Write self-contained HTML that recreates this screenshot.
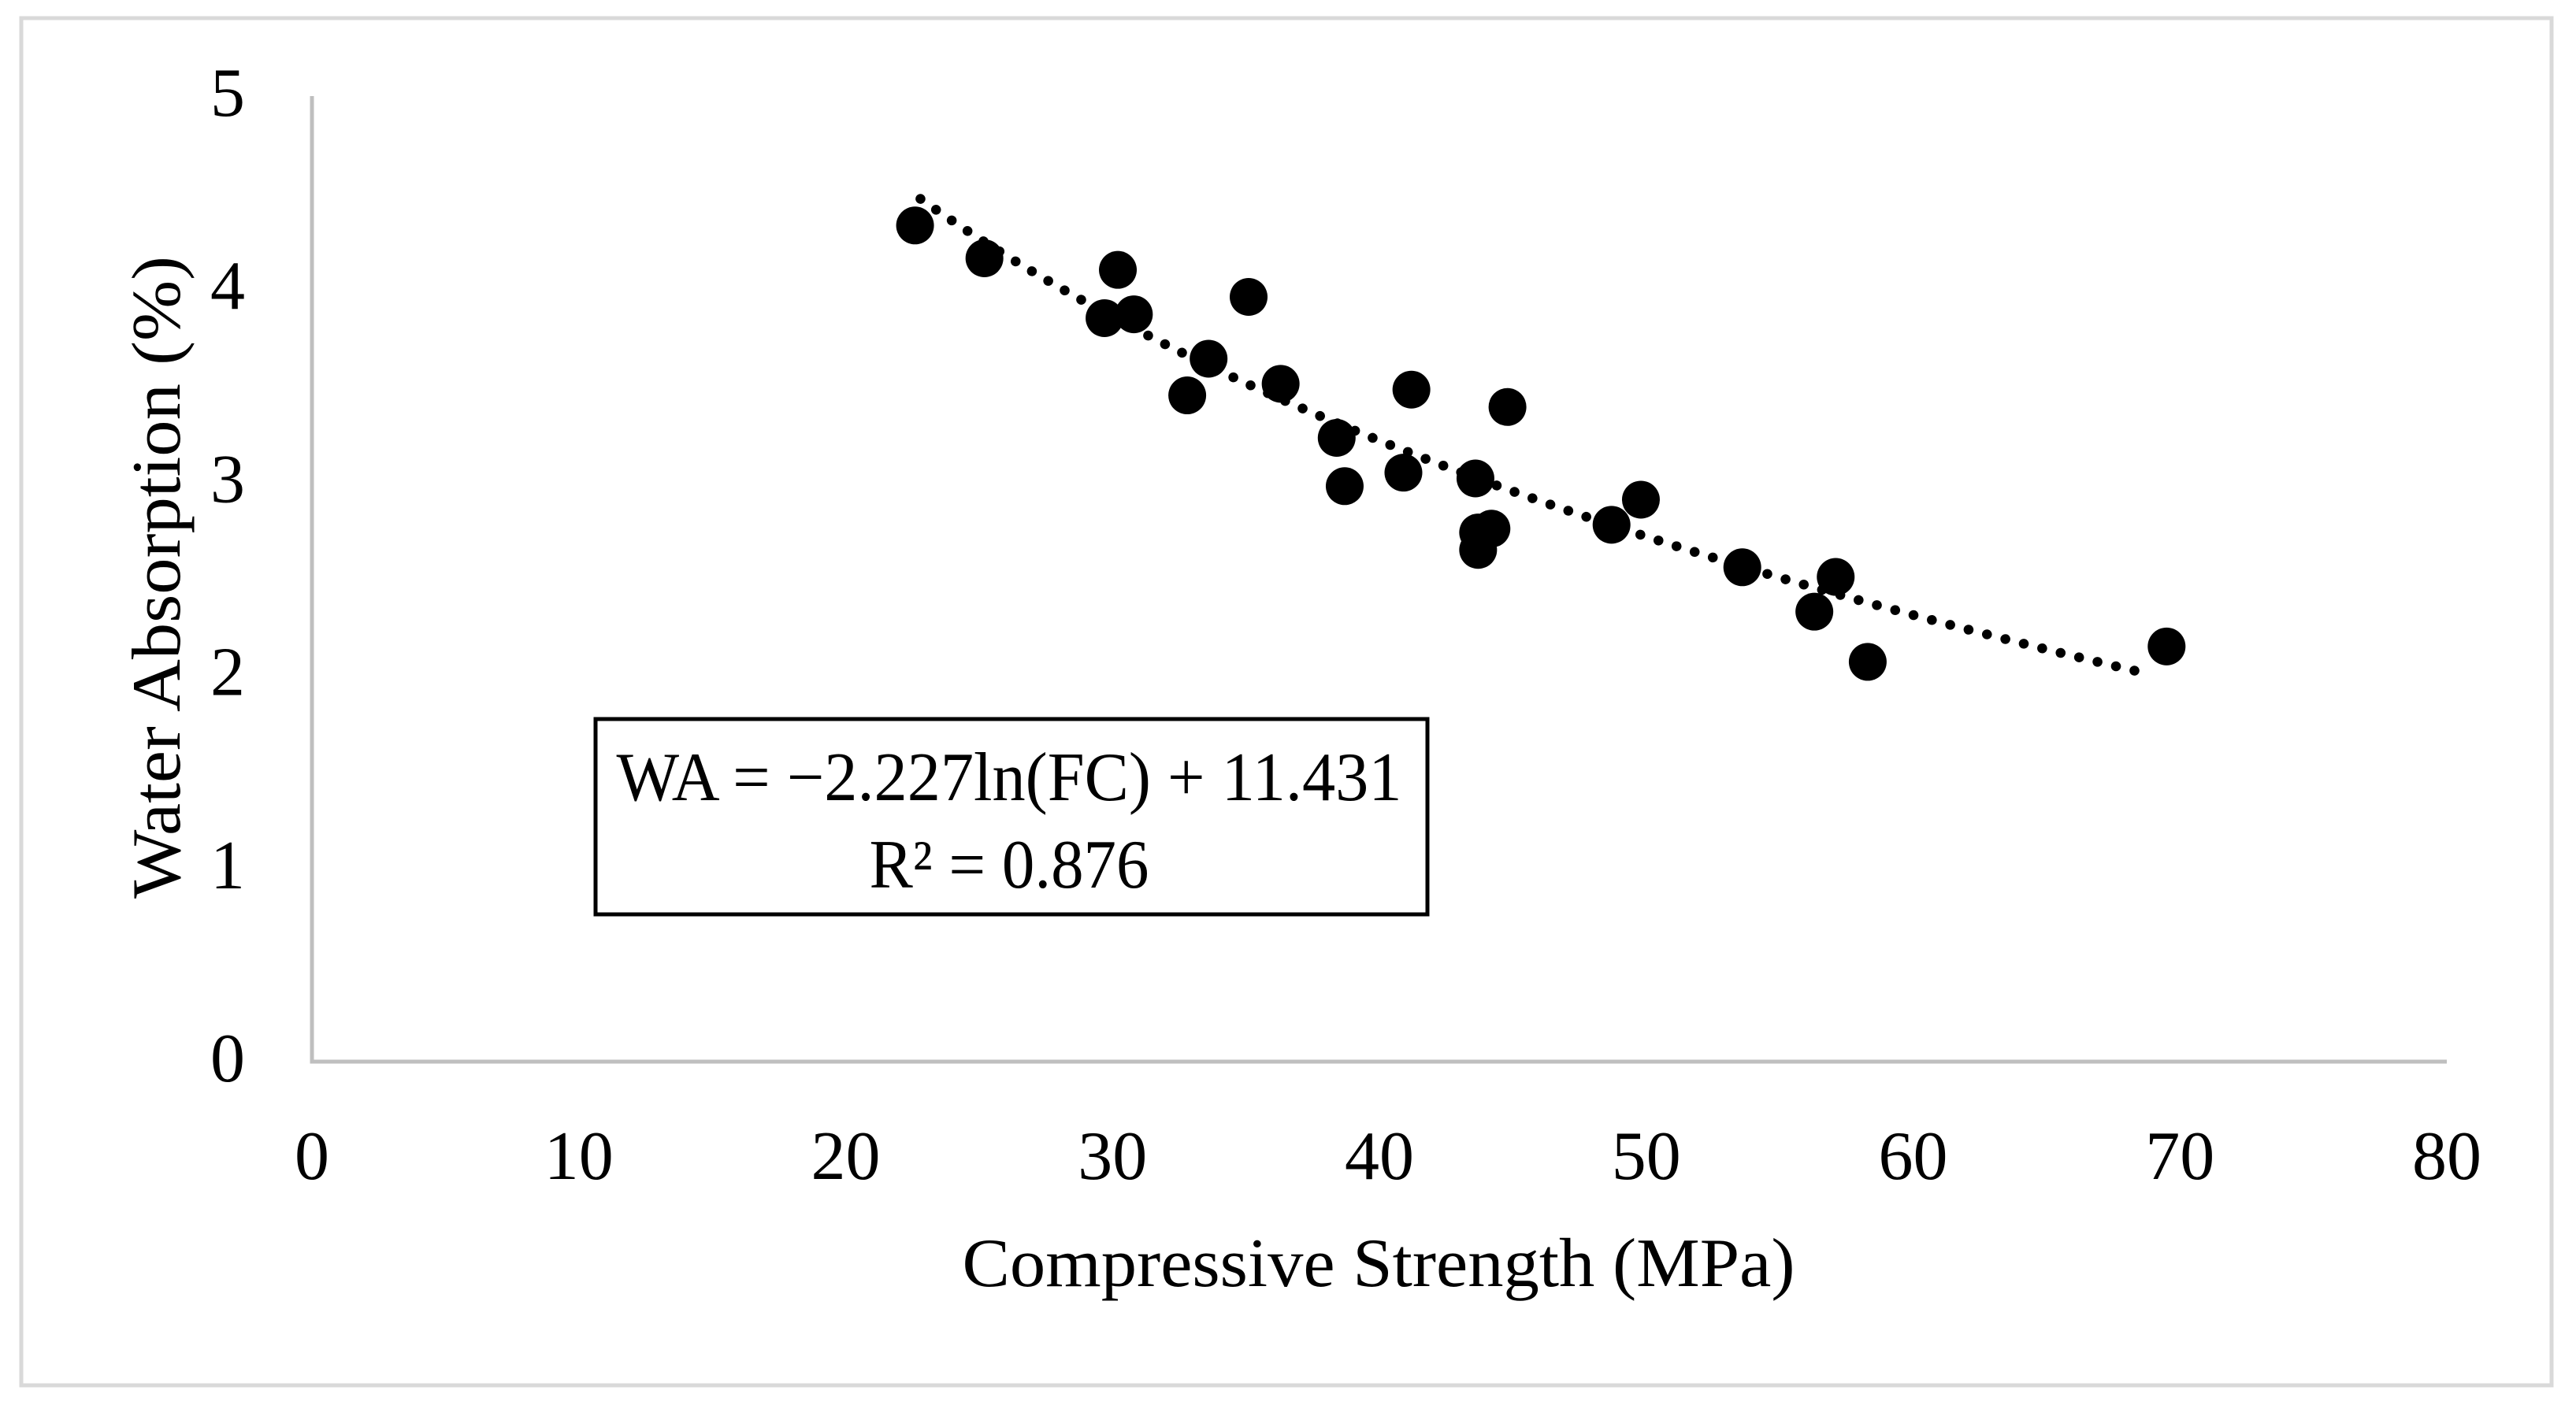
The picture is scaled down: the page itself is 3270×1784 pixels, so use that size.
<!DOCTYPE html>
<html><head><meta charset="utf-8"><style>
html,body{margin:0;padding:0;background:#fff;}
svg{display:block;}
text{font-family:"Liberation Serif",serif;fill:#000;}
</style></head><body>
<svg id="chart" width="3270" height="1784" viewBox="0 0 3270 1784">
<rect x="27" y="23" width="3212" height="1736" fill="none" stroke="#d9d9d9" stroke-width="5"/>
<g id="grid"></g>
<g id="marks"></g>
<text x="208" y="733" font-size="88" text-anchor="middle" transform="rotate(-90 208 733)" dominant-baseline="middle" textLength="816" lengthAdjust="spacingAndGlyphs">Water Absorption (%)</text>
<text x="1750" y="1633" font-size="88" text-anchor="middle" textLength="1057" lengthAdjust="spacingAndGlyphs">Compressive Strength (MPa)</text>
<g>
<rect x="756" y="913" width="1056" height="248" fill="#fff" stroke="#000" stroke-width="5"/>
<text x="1281" y="1016" font-size="88" text-anchor="middle" textLength="997" lengthAdjust="spacingAndGlyphs">WA = −2.227ln(FC) + 11.431</text>
<text x="1281" y="1127" font-size="88" text-anchor="middle" textLength="355" lengthAdjust="spacingAndGlyphs">R² = 0.876</text>
</g>
</svg>
<script>
const xTicks = [0,10,20,30,40,50,60,70,80];
const yTicks = [0,1,2,3,4,5];
const strength = [22.6,25.2,30.2,29.7,30.8,35.1,33.6,32.8,36.3,41.2,44.8,38.4,38.7,40.9,43.6,43.7,44.2,43.7,48.7,49.8,53.6,57.1,56.3,58.3,69.5];
const absorption = [4.33,4.16,4.10,3.85,3.87,3.96,3.64,3.45,3.51,3.48,3.39,3.23,2.98,3.05,3.02,2.74,2.76,2.65,2.78,2.91,2.56,2.51,2.33,2.07,2.15];
const trendCoef = [-2.227, 11.431];
const trendRange = [22.8, 68.9];

const NS = "http://www.w3.org/2000/svg";
const X0 = 396, X1 = 3106, Y0 = 1348, Y1 = 122;
const sx = v => X0 + (v - 0) / 80 * (X1 - X0);
const sy = v => Y0 - (v - 0) / 5 * (Y0 - Y1);
function mk(tag, attrs, parent) {
  const e = document.createElementNS(NS, tag);
  for (const k in attrs) e.setAttribute(k, attrs[k]);
  parent.appendChild(e);
  return e;
}
const grid = document.getElementById('grid');
const marks = document.getElementById('marks');
let a = mk('line', {x1: X0, y1: Y1, x2: X0, y2: Y0 + 2.5, stroke: '#bfbfbf', 'stroke-width': 5}, grid);


a = mk('line', {x1: X0 - 2.5, y1: Y0, x2: X1, y2: Y0, stroke: '#bfbfbf', 'stroke-width': 5}, grid);


xTicks.forEach(t => {
  const e = mk('text', {x: sx(t), y: 1497, 'font-size': 88, 'text-anchor': 'middle'}, grid);
  e.textContent = t;
  
  
});
yTicks.forEach(t => {
  const e = mk('text', {x: 289, y: sy(t) + 25, 'font-size': 88, 'text-anchor': 'middle'}, grid);
  e.textContent = t;
  
  
});
let d = '';
for (let i = 0; i <= 200; i++) {
  const xv = trendRange[0] + (trendRange[1] - trendRange[0]) * i / 200;
  const yv = trendCoef[0] * Math.log(xv) + trendCoef[1];
  d += (i ? 'L' : 'M') + sx(xv).toFixed(1) + ' ' + sy(yv).toFixed(1);
}
const tl = mk('path', {d: d, fill: 'none', stroke: '#000', 'stroke-width': 12.5, 'stroke-linecap': 'round', 'stroke-dasharray': '0.1 24'}, marks);


strength.forEach((v, i) => {
  const c = mk('circle', {cx: sx(v), cy: sy(absorption[i]), r: 24, fill: '#000'}, marks);
  
  
});
</script>
</body></html>
